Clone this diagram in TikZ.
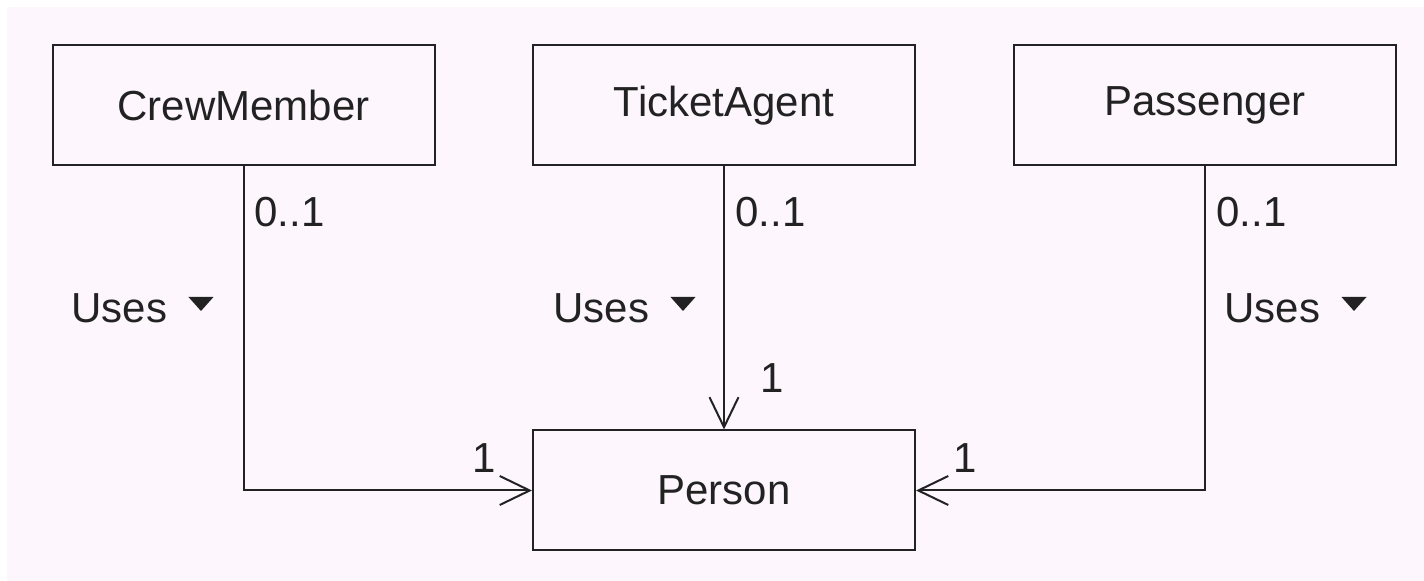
\documentclass[tikz,border=0pt]{standalone}
\usepackage{fontspec}
\setmainfont{Liberation Sans}
\usetikzlibrary{arrows.meta}
\definecolor{bgpink}{HTML}{FDF7FD}
\definecolor{ink}{HTML}{222222}
\begin{document}
\begin{tikzpicture}[x=0.5pt,y=-0.5pt,
  box/.style={draw=ink, line width=1pt, fill=bgpink, minimum width=191pt, minimum height=60pt, inner sep=0pt, font=\fontsize{21}{25}\selectfont, text=ink},
  lbl/.style={font=\fontsize{21}{25}\selectfont, text=ink, inner sep=0pt, anchor=base west},
  conn/.style={draw=ink, line width=1pt, -{Straight Barb[length=15pt,width=14.5pt]}},
  tri/.style={fill=ink, draw=none}]
\useasboundingbox (0,0) rectangle (1424,581);
\fill[white] (0,0) rectangle (1424,581);
\fill[bgpink] (7,7) rectangle (1424,581);

\node[box] (crew) at (243.5,105.5) {CrewMember};
\node[box] (ticket) at (724,105.5) {TicketAgent};
\node[box] (pass) at (1205,105.5) {Passenger};
\node[box] (person) at (724,490.5) {Person};

\draw[conn] (crew.south) |- (person.west);
\draw[conn] (ticket.south) -- (person.north);
\draw[conn] (pass.south) |- (person.east);

\node[lbl] (m1) at (254,227) {0..1};
\node[lbl] (m2) at (735,227) {0..1};
\node[lbl] (m3) at (1216,227) {0..1};
\node[lbl] (u1) at (71,323) {Uses};
\node[lbl] (u2) at (553,323) {Uses};
\node[lbl] (u3) at (1224,323) {Uses};
\path[tri] (u1.base east) ++(21,-26) -- ++(25,0) -- ++(-12.5,14) -- cycle;
\path[tri] (u2.base east) ++(21,-26) -- ++(25,0) -- ++(-12.5,14) -- cycle;
\path[tri] (u3.base east) ++(21,-26) -- ++(25,0) -- ++(-12.5,14) -- cycle;

\node[lbl] (o1) at (472,473) {1};
\node[lbl] (o2) at (760,393) {1};
\node[lbl] (o3) at (953,473) {1};
\end{tikzpicture}
\end{document}
